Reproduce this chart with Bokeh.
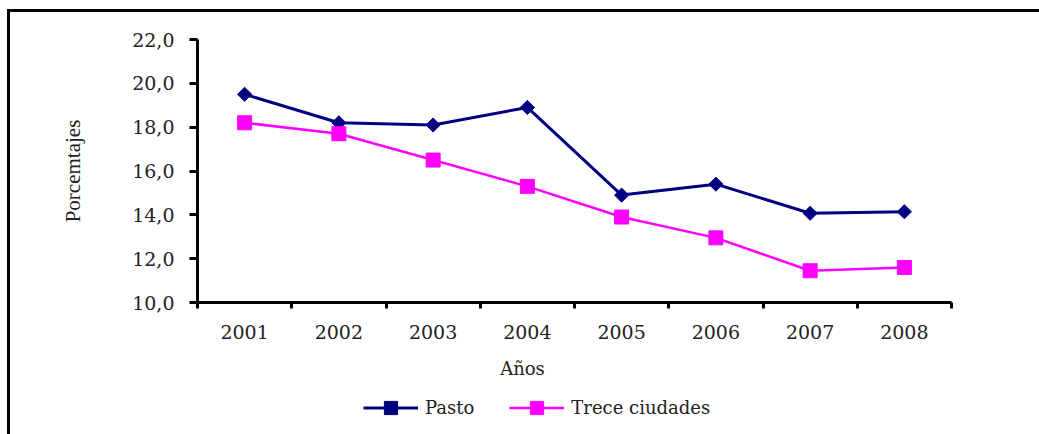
import math
from bokeh.plotting import figure
from bokeh.models import FixedTicker, Range1d, Legend, LegendItem, Label, Div
from bokeh.layouts import column, row
from bokeh.embed import file_html
from bokeh.resources import INLINE

years = ["2001", "2002", "2003", "2004", "2005", "2006", "2007", "2008"]
pasto = [19.5, 18.2, 18.1, 18.9, 14.9, 15.4, 14.07, 14.14]
trece = [18.2, 17.7, 16.5, 15.3, 13.9, 12.95, 11.45, 11.6]
y_ticks = [10, 12, 14, 16, 18, 20, 22]
y_tick_labels = ["10,0", "12,0", "14,0", "16,0", "18,0", "20,0", "22,0"]
series_names = ["Pasto", "Trece ciudades"]
x_title = "Años"
y_title = "Porcemtajes"

NAVY = "#000080"
MAGENTA = "#FF00FF"
TXT = "#222222"
SERIF = "DejaVu Serif"

x = [int(v) for v in years]

# ---- main chart ----
p = figure(width=1029, height=340, output_backend="svg", toolbar_location=None,
           x_range=Range1d(x[0] - 0.5, x[-1] + 0.5),
           y_range=Range1d(y_ticks[0], y_ticks[-1]),
           min_border_left=187, min_border_right=88,
           min_border_top=27, min_border_bottom=50)
p.background_fill_color = "white"
p.border_fill_color = "white"
p.outline_line_color = None
p.xgrid.visible = False
p.ygrid.visible = False

xa = p.xaxis[0]
xa.ticker = FixedTicker(ticks=x, minor_ticks=[x[0] - 0.5 + i for i in range(len(x) + 1)])
xa.major_label_overrides = {v: s for v, s in zip(x, years)}
xa.major_tick_out = 0
xa.major_tick_in = 0
xa.minor_tick_out = 6
xa.minor_tick_in = 0
xa.minor_tick_line_width = 3
xa.minor_tick_line_color = "black"
xa.axis_line_width = 3
xa.axis_line_color = "black"
xa.major_label_standoff = 16
xa.major_label_text_font = SERIF
xa.major_label_text_font_size = "19px"
xa.major_label_text_color = TXT

ya = p.yaxis[0]
ya.ticker = FixedTicker(ticks=y_ticks)
ya.major_label_overrides = {v: s for v, s in zip(y_ticks, y_tick_labels)}
ya.major_tick_out = 8
ya.major_tick_in = 0
ya.major_tick_line_width = 3
ya.major_tick_line_color = "black"
ya.minor_tick_out = 0
ya.minor_tick_in = 0
ya.axis_line_width = 3
ya.axis_line_color = "black"
ya.major_label_standoff = 15
ya.major_label_text_font = SERIF
ya.major_label_text_font_size = "19px"
ya.major_label_text_color = TXT
ya.axis_label = y_title
ya.axis_label_standoff = 44
ya.axis_label_text_font = "Liberation Serif"
ya.axis_label_text_font_size = "21px"
ya.axis_label_text_font_style = "normal"
ya.axis_label_text_color = TXT

p.line(x, pasto, line_color=NAVY, line_width=3)
p.scatter(x, pasto, marker="square", angle=math.pi / 4, size=10,
          fill_color=NAVY, line_color=NAVY)
p.line(x, trece, line_color=MAGENTA, line_width=2.5)
p.scatter(x, trece, marker="square", size=14,
          fill_color=MAGENTA, line_color=MAGENTA)

# ---- bottom strip: x title and legend (frame aligned with the chart above) ----
q = figure(width=1029, height=82, output_backend="svg", toolbar_location=None,
           x_range=Range1d(0, 1), y_range=Range1d(0, 1),
           x_axis_type=None, y_axis_type=None,
           min_border_left=0, min_border_right=0, min_border_top=0, min_border_bottom=0)
q.background_fill_color = "white"
q.border_fill_color = "white"
q.outline_line_color = None
q.xgrid.visible = False
q.ygrid.visible = False

l1 = q.line(x, pasto, line_color=NAVY, line_width=3)
m1 = q.scatter(x, pasto, marker="square", angle=math.pi / 4, size=10,
               fill_color=NAVY, line_color=NAVY)
l2 = q.line(x, trece, line_color=MAGENTA, line_width=2.5)
m2 = q.scatter(x, trece, marker="square", size=14,
               fill_color=MAGENTA, line_color=MAGENTA)

legend = Legend(items=[LegendItem(label=series_names[0], renderers=[l1, m1]),
                       LegendItem(label=series_names[1], renderers=[l2, m2])],
                orientation="horizontal", location=(166, 10),
                glyph_width=55, glyph_height=33, label_standoff=7, spacing=35,
                padding=0, border_line_color=None, background_fill_alpha=0,
                label_text_font=SERIF, label_text_font_size="18px",
                label_text_color=TXT)
q.add_layout(legend, "center")
q.add_layout(Label(x=325, y=66, x_units="screen", y_units="screen", text=x_title,
                   text_align="center", text_baseline="middle",
                   text_font=SERIF, text_font_size="18px", text_color=TXT))

# ---- outer frame lines (top and left) ----
top_gap = Div(text="", width=1039, height=9, margin=0)
top_bar = Div(text="", width=1032, height=3, margin=0, styles={"background-color": "black"})
left_gap = Div(text="", width=7, height=425, margin=0)
left_bar = Div(text="", width=3, height=422, margin=0, styles={"background-color": "black"})
layout = column(top_gap,
                row(left_gap,
                    column(top_bar,
                           row(left_bar, column(p, q, spacing=0), spacing=0),
                           spacing=0),
                    spacing=0),
                spacing=0)

open("out.html", "w").write(file_html(layout, INLINE))
